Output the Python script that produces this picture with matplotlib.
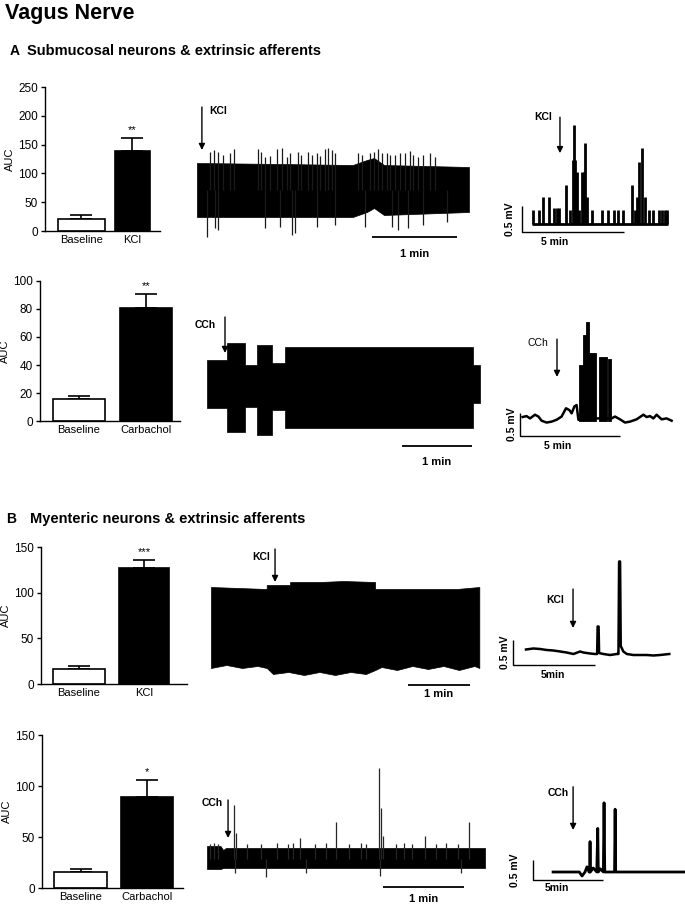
import numpy as np
import matplotlib.pyplot as plt

plt.rcParams['font.family'] = ['Liberation Sans', 'DejaVu Sans']

W, H = 685, 905
fig = plt.figure(figsize=(W / 100, H / 100), dpi=100)


def px_axes(x0, y0, x1, y1):
    # axes placed by pixel box (left, top, right, bottom)
    return fig.add_axes([x0 / W, 1 - y1 / H, (x1 - x0) / W, (y1 - y0) / H])


# ---------------- bar data (AUC, mean and SEM) ----------------
a_kcl_labels = ['Baseline', 'KCl']
a_kcl_auc = [21, 139]
a_kcl_sem = [6, 22]

a_cch_labels = ['Baseline', 'Carbachol']
a_cch_auc = [16, 81]
a_cch_sem = [2, 10]

b_kcl_labels = ['Baseline', 'KCl']
b_kcl_auc = [16, 127]
b_kcl_sem = [4, 9]

b_cch_labels = ['Baseline', 'Carbachol']
b_cch_auc = [16, 89]
b_cch_sem = [3, 17]

# ---------------- A, KCl raw trace (s, a.u.) ----------------
a1_env_t = [0, 60, 110, 120, 125, 132, 192]
a1_env_top = [27, 26, 25, 30, 32, 25, 23]
a1_env_bot = [-27, -27, -27, -22, -18, -25, -22]
a1_up_t = [9.2, 12, 15, 18.6, 23.3, 26.1, 43.3, 45.2, 48, 51.5, 56.7, 59.8, 63.3, 65.6,
           71.5, 73.4, 78.6, 81, 84.5, 86.8, 90.4, 92.7, 95.1, 97.4, 113.9, 116.3, 122.1,
           125, 128, 130.4, 133.9, 136.2, 139.8, 143.3, 146.8, 150.4, 152.7, 156.3, 159.8,
           164.5, 168]
a1_up_amp = [38, 40, 38, 35, 37, 41, 41, 38, 33, 34, 41, 42, 33, 37, 38, 35, 38, 35, 37, 34,
             41, 42, 40, 37, 37, 35, 37, 38, 41, 37, 37, 35, 35, 37, 37, 39, 35, 33, 35, 37, 33]
a1_dn_t = [7.3, 12.5, 14.9, 48, 58.6, 66.8, 69, 84.5, 97.4, 118.6, 137.5, 142.2, 149.3, 159.8, 176.3]
a1_dn_amp = [-47, -38, -40, -38, -37, -45, -43, -37, -35, -37, -37, -40, -38, -35, -32]

# ---------------- A, KCl integrated trace (min, mV) ----------------
a1i_base_t = [0.5, 7.15]
a1i_pulse_t = [0.52, 0.85, 1.05, 1.32, 1.57, 1.73, 1.81, 2.16, 2.35, 2.48, 2.55, 2.62, 2.68,
               2.81, 2.95, 3.04, 3.10, 3.20, 3.41, 3.90, 4.23, 4.52, 4.72, 4.96, 5.37, 5.54,
               5.65, 5.75, 5.90, 6.03, 6.22, 6.43, 6.71, 6.84, 7.0, 7.12]
a1i_pulse_h = [0.26, 0.26, 0.50, 0.50, 0.29, 0.29, 0.29, 0.74, 0.26, 1.22, 1.89, 1.22, 0.99,
               0.26, 0.99, 0.99, 1.54, 0.51, 0.26, 0.26, 0.26, 0.26, 0.26, 0.26, 0.74, 0.26,
               0.50, 1.18, 1.44, 0.51, 0.26, 0.26, 0.26, 0.26, 0.26, 0.26]

# ---------------- A, CCh raw trace (s, a.u.) ----------------
a2_env_t = [0, 16.9, 32.6, 42.6, 55.4, 66.9, 228.3, 234]
a2_env_top = [24, 41, 19, 39, 21, 37, 19, 19]
a2_env_bot = [-24, -48, -23, -51, -26, -44, -19, -19]

# ---------------- A, CCh integrated trace (min, mV) ----------------
a2i_t = [0.13, 0.33, 0.5, 0.75, 0.92, 1.08, 1.33, 1.58, 1.83, 2.08, 2.3, 2.47, 2.58, 2.72,
         2.83, 2.92, 3.08, 3.33, 3.67, 4.0, 4.33, 4.58, 4.75, 5.0, 5.25, 5.5, 5.83, 6.17,
         6.33, 6.5, 6.67, 6.83, 7.08, 7.33, 7.58]
a2i_v = [0.41, 0.43, 0.38, 0.46, 0.42, 0.33, 0.29, 0.31, 0.35, 0.42, 0.60, 0.56, 0.49, 0.64,
         0.67, 0.35, 0.35, 0.38, 0.38, 0.38, 0.38, 0.38, 0.42, 0.36, 0.29, 0.31, 0.36, 0.46,
         0.41, 0.43, 0.38, 0.46, 0.36, 0.38, 0.33]
a2i_burst_start = [2.97, 3.17, 3.30, 3.47, 3.95, 4.42]
a2i_burst_end = [3.17, 3.30, 3.47, 3.80, 4.37, 4.53]
a2i_burst_top = [1.54, 2.19, 2.48, 1.79, 1.71, 1.66]

# ---------------- B, KCl raw trace (s, a.u.) ----------------
b1_top_t = [0, 53.9, 54, 76.5, 76.6, 105.5, 128, 158.8, 158.9, 237.8, 259.7]
b1_top = [43, 41, 45, 45, 48, 48, 49, 48, 41, 41, 43]
b1_bot_t = [0, 15, 30, 45, 54, 60, 75, 90, 105, 120, 135, 150, 159, 165, 180, 195, 210, 225,
            240, 255, 259.7]
b1_bot = [-38, -35, -38, -36, -38, -44, -42, -45, -42, -45, -42, -44, -40, -37, -40, -36,
          -39, -36, -40, -36, -38]

# ---------------- B, KCl integrated trace (min, mV) ----------------
b1i_t = [0.79, 1.24, 1.65, 2.05, 2.46, 2.87, 3.27, 3.68, 4.09, 4.29, 4.7, 5.0, 5.13, 5.16,
         5.22, 5.25, 5.51, 5.92, 6.33, 6.43, 6.47, 6.53, 6.57, 6.73, 6.94, 7.34, 7.75, 8.16,
         8.56, 8.97, 9.53]
b1i_v = [0.31, 0.33, 0.32, 0.30, 0.29, 0.27, 0.25, 0.22, 0.27, 0.25, 0.23, 0.22, 0.22, 0.77,
         0.77, 0.24, 0.22, 0.20, 0.22, 0.22, 2.07, 2.07, 0.38, 0.27, 0.22, 0.20, 0.20, 0.20,
         0.19, 0.20, 0.22]

# ---------------- B, CCh raw trace (s, a.u.) ----------------
b2_env_t = [0, 10, 12, 14, 206]
b2_env_top = [13, 13, 9, 11, 11]
b2_env_bot = [-10, -10, -9, -9, -9]
b2_up_t = [2, 5, 8, 19.8, 21.3, 30, 40, 52, 60, 64, 68.9, 80, 88, 95.3, 105, 114, 118, 127.7,
           128.7, 130.6, 140, 146, 152, 161.5, 170, 177, 186, 194.4]
b2_up_amp = [15, 16, 15, 54, 26, 15, 15, 16, 15, 16, 21, 15, 16, 37, 15, 16, 15, 91, 51, 23,
             15, 16, 15, 23, 15, 16, 15, 37]
b2_dn_t = [20.5, 44, 73.2, 128.3, 188.2]
b2_dn_amp = [-14, -18, -14, -17, -14]

# ---------------- B, CCh integrated trace (min, mV) ----------------
b2i_t = [1.43, 3.3, 3.5, 3.71, 3.85, 4.0, 4.05, 4.07, 4.09, 4.3, 4.55, 4.62, 4.66, 4.8, 5.02,
         5.07, 5.12, 5.3, 5.82, 5.86, 5.9, 6.2, 10.86]
b2i_v = [0.2, 0.2, 0.1, 0.2, 0.33, 0.2, 0.2, 0.96, 0.2, 0.3, 0.2, 1.29, 0.2, 0.28, 0.2, 1.93,
         0.2, 0.2, 0.2, 1.77, 0.2, 0.2, 0.2]

BOLD = dict(fontweight='bold')


def bar_panel(rect, labels, means, sems, stars, ymax, yticks, xlim, widths):
    ax = px_axes(*rect)
    x = np.arange(len(labels))
    ax.bar(x, means, width=widths, color=['white', 'black'], edgecolor='black', linewidth=1.2,
           zorder=2)
    ax.errorbar(x, means, yerr=[np.zeros(len(sems)), sems], fmt='none', ecolor='black',
                elinewidth=1.2, capsize=8, capthick=1.2, zorder=1)
    ax.annotate(stars, (1, means[1] + sems[1]), xytext=(0, 2), textcoords='offset points',
                ha='center', va='bottom', fontsize=8)
    ax.set_xlim(*xlim)
    ax.set_ylim(0, ymax)
    ax.set_yticks(yticks)
    ax.set_xticks(x)
    ax.set_xticklabels(labels, fontsize=8)
    ax.tick_params(axis='x', length=0, pad=3)
    ax.tick_params(axis='y', length=3, width=1, labelsize=8.5, pad=2)
    for s in ['top', 'right']:
        ax.spines[s].set_visible(False)
    for s in ['left', 'bottom']:
        ax.spines[s].set_linewidth(1)
    ax.set_ylabel('AUC', fontsize=8, labelpad=2)
    return ax


def trace_axes(rect, xlim, ylim):
    ax = px_axes(*rect)
    ax.set_xlim(*xlim)
    ax.set_ylim(*ylim)
    ax.axis('off')
    return ax


def arrow(ax, x, y0, y1, label, tx, ty, bold=True, ha='center'):
    ax.annotate('', xy=(x, y1), xytext=(x, y0),
                arrowprops=dict(arrowstyle='-|>', lw=1, color='black', mutation_scale=9,
                                shrinkA=0, shrinkB=0))
    ax.text(tx, ty, label, ha=ha, va='center', fontsize=7.5,
            fontweight='bold' if bold else 'normal')


def time_bar(ax, t0, t1, y, label, ty):
    ax.plot([t0, t1], [y, y], color='black', lw=1.3, solid_capstyle='butt')
    ax.text((t0 + t1) / 2, ty, label, ha='center', va='center', fontsize=8, **BOLD)


def mv_bar(ax, length, y0, ampl, t_text, t_label, y_label, label_t):
    ax.plot([0, 0, length], [y0 + ampl, y0, y0], color='black', lw=1, solid_capstyle='butt')
    ax.text(t_text, y0 + ampl / 2, '0.5 mV', rotation=90, ha='center', va='center',
            fontsize=7.5, **BOLD)
    ax.text(t_label, y_label, label_t, ha='center', va='center', fontsize=7.5, **BOLD)


# ---------------- titles ----------------
fig.text(5 / W, 1 - 13 / H, 'Vagus Nerve', fontsize=15.5, fontweight='bold', va='center')
fig.text(10 / W, 1 - 51 / H, 'A', fontsize=10, fontweight='bold', va='center')
fig.text(27 / W, 1 - 51 / H, 'Submucosal neurons & extrinsic afferents', fontsize=10.5,
         fontweight='bold', va='center')
fig.text(6 / W, 1 - 519 / H, 'B', fontsize=10, fontweight='bold', va='center')
fig.text(30 / W, 1 - 519 / H, 'Myenteric neurons & extrinsic afferents', fontsize=10.5,
         fontweight='bold', va='center')

# ---------------- bar panels ----------------
bar_panel((45, 87, 160, 231), a_kcl_labels, a_kcl_auc, a_kcl_sem, '**', 250,
          [0, 50, 100, 150, 200, 250], (-0.716, 1.54), [0.92, 0.69])
bar_panel((40, 281, 180, 421), a_cch_labels, a_cch_auc, a_cch_sem, '**', 100,
          [0, 20, 40, 60, 80, 100], (-0.58, 1.51), [0.78, 0.78])
bar_panel((41, 547, 187, 684), b_kcl_labels, b_kcl_auc, b_kcl_sem, '***', 150,
          [0, 50, 100, 150], (-0.585, 1.66), [0.8, 0.77])
bar_panel((42, 735, 183, 888), b_cch_labels, b_cch_auc, b_cch_sem, '*', 150,
          [0, 50, 100, 150], (-0.58, 1.54), [0.8, 0.78])

# ---------------- A: KCl raw ----------------
ax = trace_axes((190, 100, 480, 260), (-4.9, 199.8), (-70, 90))
ax.fill_between(a1_env_t, a1_env_bot, a1_env_top, color='black', lw=0.5)
ax.vlines(a1_up_t, 0, a1_up_amp, color='0.1', lw=0.9)
ax.vlines(a1_dn_t, 0, a1_dn_amp, color='0.1', lw=0.9)
arrow(ax, 3.5, 83, 40, 'KCl', 9.0, 79, ha='left')
time_bar(ax, 123.5, 183.5, -47, '1 min', -64)

# ---------------- A: KCl integrated ----------------
ax = trace_axes((500, 100, 685, 260), (-1.08, 7.99), (-0.70, 2.37))
ax.plot(a1i_base_t, [0, 0], color='black', lw=2, solid_capstyle='butt')
ax.vlines(a1i_pulse_t, 0, a1i_pulse_h, color='black', lw=2)
arrow(ax, 1.86, 2.04, 1.35, 'KCl', 1.05, 2.04)
mv_bar(ax, 5, -0.17, 0.5, -0.59, 1.6, -0.36, '5 min')

# ---------------- A: CCh raw ----------------
ax = trace_axes((190, 300, 485, 470), (-14.6, 238.3), (-86, 84))
ax.fill_between(a2_env_t, a2_env_bot, a2_env_top, step='post', color='black', lw=0.5)
arrow(ax, 15.4, 67, 31, 'CCh', 7.5, 59, ha='right')
time_bar(ax, 167, 227, -62, '1 min', -78)

# ---------------- A: CCh integrated ----------------
ax = trace_axes((500, 300, 685, 470), (-1.0, 8.25), (-0.74, 2.95))
ax.plot(a2i_t, a2i_v, color='black', lw=1.8)
for s, e, top in zip(a2i_burst_start, a2i_burst_end, a2i_burst_top):
    ax.fill_between([s, e], 0.33, top, color='black', lw=0.6)
arrow(ax, 1.85, 2.1, 1.28, 'CCh', 0.9, 2.02, bold=False)
mv_bar(ax, 5, 0, 0.5, -0.4, 1.9, -0.22, '5 min')

# ---------------- B: KCl raw ----------------
ax = trace_axes((190, 530, 485, 705), (-20.3, 265.2), (-75, 100))
t_all = np.union1d(b1_top_t, b1_bot_t)
ax.fill_between(t_all, np.interp(t_all, b1_bot_t, b1_bot), np.interp(t_all, b1_top_t, b1_top),
                color='black', lw=0.5)
arrow(ax, 62, 81, 48, 'KCl', 57, 73, ha='right')
time_bar(ax, 190.7, 250.7, -55, '1 min', -64)

# ---------------- B: KCl integrated ----------------
ax = trace_axes((495, 520, 685, 705), (-1.1, 10.49), (-0.8, 2.9))
ax.plot(b1i_t, b1i_v, color='black', lw=1.8)
arrow(ax, 3.66, 1.52, 0.74, 'KCl', 2.56, 1.3)
mv_bar(ax, 5, 0, 0.5, -0.49, 2.44, -0.2, '5min')

# ---------------- B: CCh raw ----------------
ax = trace_axes((190, 730, 485, 905), (-12.6, 206), (-46, 129))
ax.fill_between(b2_env_t, b2_env_bot, b2_env_top, color='black', lw=0.5)
ax.vlines(b2_up_t, 0, b2_up_amp, color='0.15', lw=0.9)
ax.vlines(b2_dn_t, 0, b2_dn_amp, color='0.15', lw=0.9)
arrow(ax, 15.6, 59, 21, 'CCh', 11.5, 56, ha='right')
time_bar(ax, 130.4, 190.4, -28, '1 min', -40)

# ---------------- B: CCh integrated ----------------
ax = trace_axes((500, 740, 685, 905), (-2.36, 10.85), (-0.625, 3.5))
ax.plot(b2i_t, b2i_v, color='black', lw=2)
arrow(ax, 2.86, 2.33, 1.25, 'CCh', 1.79, 2.18)
mv_bar(ax, 5, 0, 0.5, -1.29, 1.71, -0.2, '5min')

fig.savefig('out.png', dpi=100)
